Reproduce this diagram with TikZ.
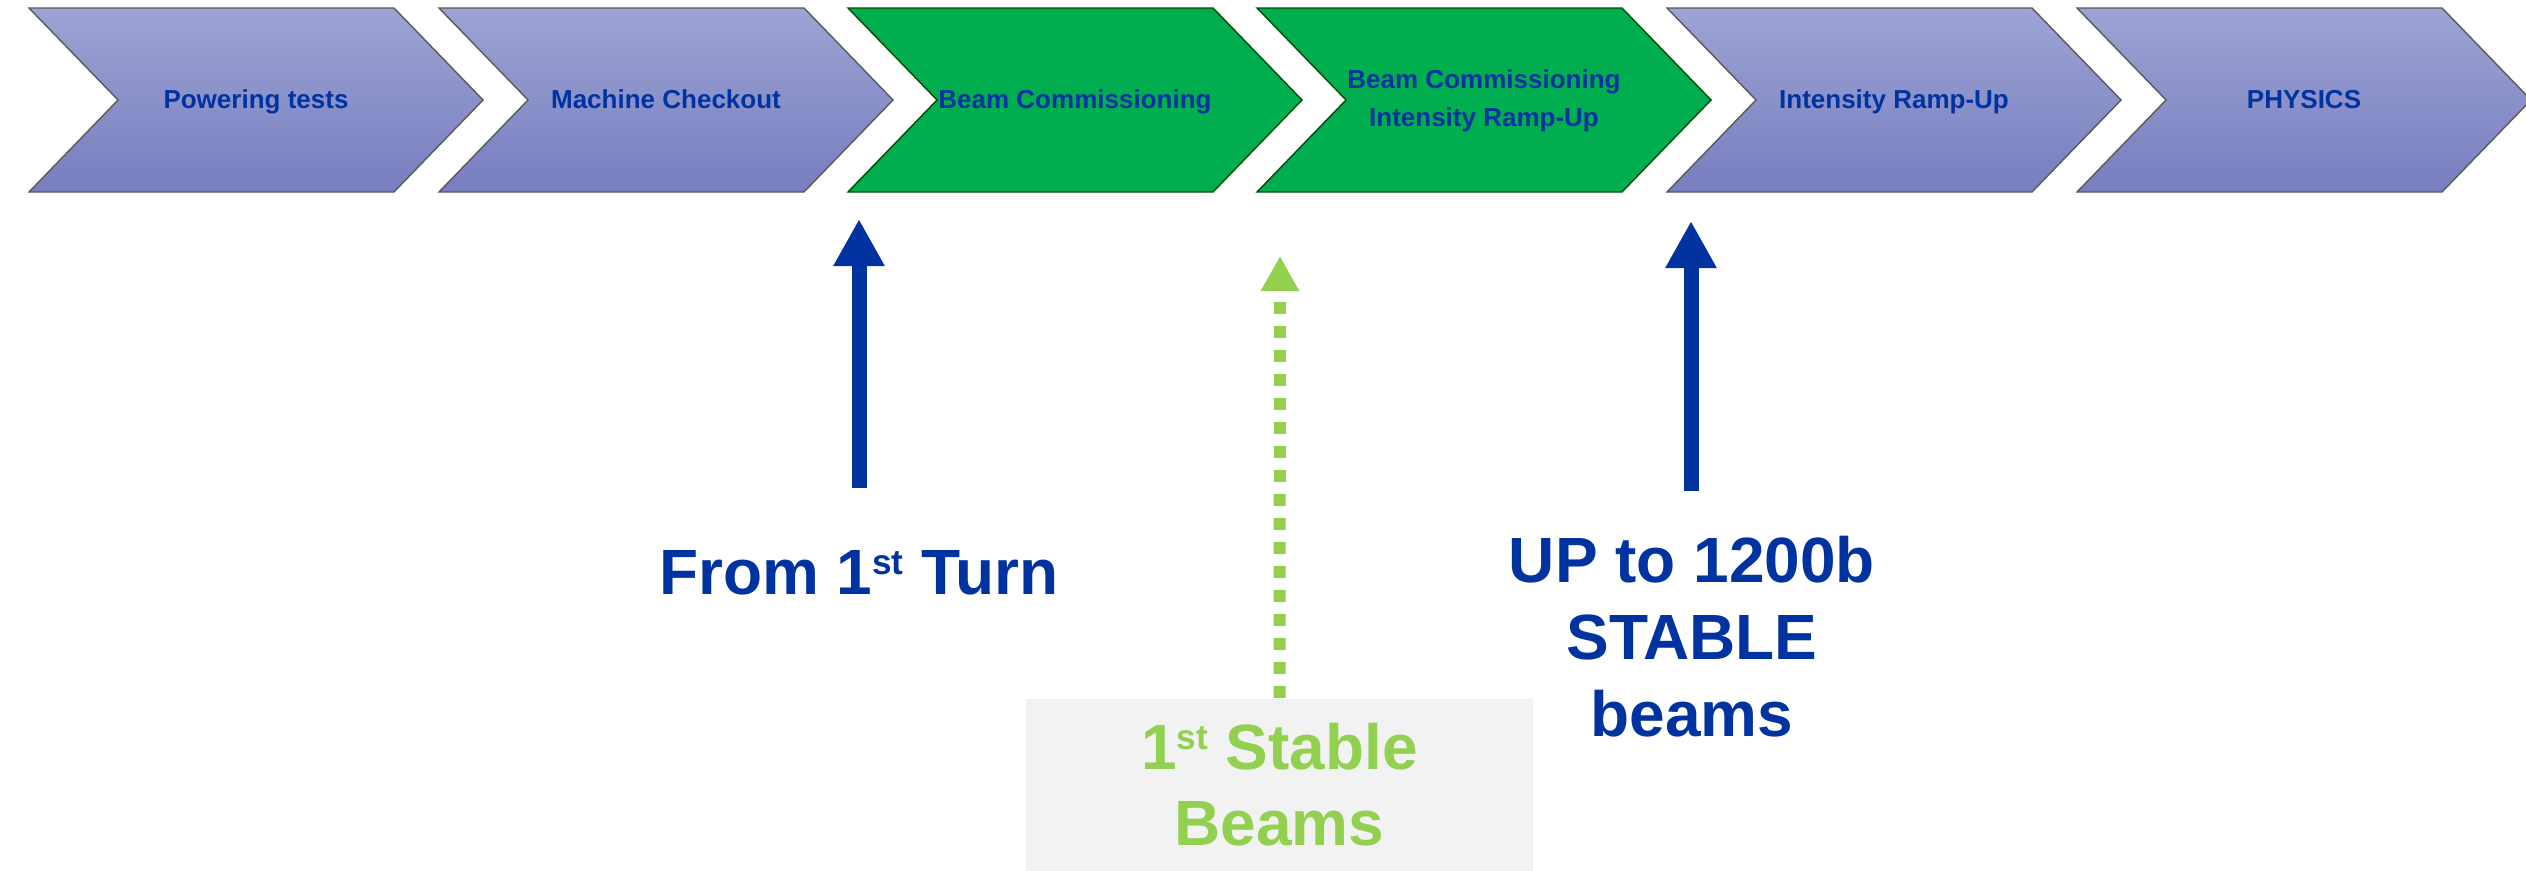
\documentclass[tikz,border=0pt]{standalone}
\usepackage{fontspec}
\setmainfont{Liberation Sans}
\usepackage{tikz}
\usetikzlibrary{arrows.meta}

\definecolor{lhcblue}{RGB}{0,51,160}
\definecolor{phasetop}{RGB}{157,163,211}
\definecolor{phasebot}{RGB}{120,126,191}
\definecolor{phasegreen}{RGB}{0,173,79}
\definecolor{stablegreen}{RGB}{146,208,80}
\definecolor{boxgray}{RGB}{242,242,242}

% small raised ordinal, as in 1st
\newcommand{\ordsup}[1]{\raisebox{2mm}{\fontsize{10}{10}\selectfont #1}}

\tikzstyle{phase} = [draw=gray!70!black, line width=0.4pt, top color=phasetop, bottom color=phasebot]
\tikzstyle{active} = [draw=green!30!black, line width=0.4pt, fill=phasegreen]
\tikzstyle{phase text} = [text=lhcblue, font=\fontsize{7.4}{10.8}\selectfont\bfseries, align=center]
\tikzstyle{big text} = [text=lhcblue, font=\fontsize{18.2}{21.9}\selectfont\bfseries, align=center, inner sep=0pt]
\tikzstyle{stable box} = [fill=boxgray, minimum width=50.7mm, minimum height=17.3mm, inner sep=0pt, text=stablegreen, font=\fontsize{18.2}{21.6}\selectfont\bfseries, align=center]
\tikzstyle{arrow} = [draw=lhcblue, line width=1.5mm, -{Triangle[width=4.8mm,length=4.7mm]}]
\tikzstyle{dashed arrow} = [draw=stablegreen, line width=1.2mm, dash pattern=on 1.2mm off 1.2mm, -{Triangle[width=3.6mm,length=3.5mm]}]

\begin{document}
\begin{tikzpicture}[x=0.1mm, y=-0.1mm]
  \useasboundingbox (0,0) rectangle (2526,871);

  % the six phases
  \foreach \x/\kind in {29/phase, 439/phase, 848/active, 1257/active, 1667/phase, 2077/phase}
    \path[\kind] (\x,8) -- ++(365,0) -- ++(89,92) -- ++(-89,92) -- ++(-365,0) -- ++(89,-92) -- cycle;

  \node (powering) [phase text, anchor=base] at (256,109) {Powering tests};
  \node (checkout) [phase text, anchor=base] at (666,109) {Machine Checkout};
  \node (commissioning) [phase text, anchor=base] at (1075,109) {Beam Commissioning};
  \node (ramp commissioning) [phase text] at (1484,101) {Beam Commissioning\\Intensity Ramp-Up};
  \node (ramp up) [phase text, anchor=base] at (1894,109) {Intensity Ramp-Up};
  \node (physics) [phase text, anchor=base] at (2304,109) {PHYSICS};

  % milestones below
  \node (first turn) [big text] at (859,573) {From 1\ordsup{st} Turn};
  \node (stable beams) [stable box] at (1279.5,785) {1\ordsup{st} Stable\\Beams};
  \node (full intensity) [big text] at (1692,637) {UP to 1200b\\STABLE\\beams};

  \coordinate (turn tail) at (859,488);
  \coordinate (turn tip) at (859,219);
  \coordinate (stable tip) at (1280,256);
  \coordinate (intensity tail) at (1691,491);
  \coordinate (intensity tip) at (1691,221);

  \draw[arrow] (turn tail) -- (turn tip);
  \draw[dashed arrow] (stable beams.north) -- (stable tip);
  \draw[arrow] (intensity tail) -- (intensity tip);

\end{tikzpicture}
\end{document}
